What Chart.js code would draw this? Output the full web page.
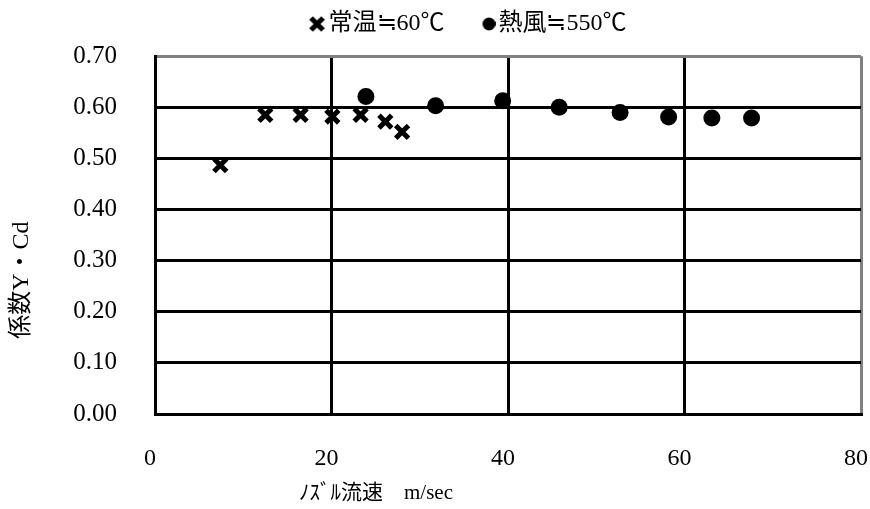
<!DOCTYPE html>
<html><head><meta charset="utf-8">
<script src="https://cdn.jsdelivr.net/npm/chart.js@4.4.0/dist/chart.umd.min.js"></script>
<style>html,body{margin:0;padding:0;background:#fff;}#wrap{width:870px;height:509px;}</style>
</head><body><div id="wrap"><canvas id="c" width="870" height="509"></canvas></div>
<script>
const seriesNames = ['常温≒60℃', '熱風≒550℃'];
const normalSpeed = [7.4, 12.5, 16.5, 20.1, 23.3, 26.1, 28.0];
const normalCoef  = [0.487, 0.585, 0.585, 0.582, 0.585, 0.572, 0.552];
const hotSpeed = [23.9, 31.8, 39.4, 45.8, 52.7, 58.2, 63.1, 67.6];
const hotCoef  = [0.621, 0.603, 0.613, 0.600, 0.590, 0.581, 0.579, 0.579];
const xTicks = [0, 20, 40, 60, 80];
const yTicks = [0, 0.1, 0.2, 0.3, 0.4, 0.5, 0.6, 0.7];
const xTitle = 'ﾉｽﾞﾙ流速　m/sec';
const yTitle = '係数Y・Cd';

const FONT = "'Liberation Serif','Noto Sans CJK JP',serif";
const GRAY = '#808080';
const LEG_FS = 24, LEG_PAD = 7, BW = 35;

function legendMark(kind) {
  const W = BW + 18, H = 24;
  const cv = document.createElement('canvas');
  cv.width = W; cv.height = H;
  const g = cv.getContext('2d');
  g.fillStyle = '#000'; g.strokeStyle = '#000';
  if (kind === 'x') {
    const s = 17, x0 = W - s, y0 = (H - s) / 2, m = 2.5;
    g.lineWidth = 5; g.lineCap = 'butt';
    g.beginPath();
    g.moveTo(x0 + m, y0 + m); g.lineTo(x0 + s - m, y0 + s - m);
    g.moveTo(x0 + s - m, y0 + m); g.lineTo(x0 + m, y0 + s - m);
    g.stroke();
  } else {
    const r = 6.5;
    g.beginPath(); g.arc(W - r, H / 2, r, 0, Math.PI * 2); g.fill();
  }
  return cv;
}
const legendMarks = [legendMark('x'), legendMark('o')];

const axisTitles = {
  id: 'axisTitles',
  afterDraw(chart) {
    const ctx = chart.ctx, a = chart.chartArea;
    ctx.save();
    ctx.fillStyle = '#000';
    ctx.textAlign = 'center';
    ctx.textBaseline = 'middle';
    ctx.font = '21px ' + FONT;
    ctx.fillText(xTitle, a.left + 221, 493);
    ctx.font = '24px ' + FONT;
    ctx.translate(22, a.top + 224);
    ctx.rotate(-Math.PI / 2);
    ctx.fillText(yTitle, 0, 0);
    ctx.restore();
  }
};

new Chart(document.getElementById('c'), {
  type: 'scatter',
  data: {
    datasets: [
      {
        label: seriesNames[0],
        data: normalSpeed.map((x, i) => ({ x: x, y: normalCoef[i] })),
        pointStyle: 'crossRot', pointRadius: 9, pointHoverRadius: 9,
        borderColor: '#000', backgroundColor: '#000', borderWidth: 5, pointBorderWidth: 5
      },
      {
        label: seriesNames[1],
        data: hotSpeed.map((x, i) => ({ x: x, y: hotCoef[i] })),
        pointStyle: 'circle', pointRadius: 8.5, pointHoverRadius: 8.5,
        borderColor: '#000', backgroundColor: '#000', borderWidth: 0, pointBorderWidth: 0
      }
    ]
  },
  options: {
    responsive: false,
    animation: false,
    events: [],
    layout: { autoPadding: false, padding: { left: 47, right: 9, top: 5, bottom: 0 } },
    plugins: {
      tooltip: { enabled: false },
      subtitle: { display: true, text: '', weight: 500, position: 'top', font: { size: 1 }, padding: { top: 9, bottom: 0 } },
      legend: {
        position: 'top',
        labels: {
          usePointStyle: true,
          pointStyleWidth: BW,
          padding: LEG_PAD,
          color: '#000',
          font: { family: FONT, size: LEG_FS },
          generateLabels: chart => chart.data.datasets.map((ds, i) => ({
            text: ds.label, pointStyle: legendMarks[i], fillStyle: '#000',
            strokeStyle: '#000', lineWidth: 0, hidden: false, datasetIndex: i, fontColor: '#000'
          }))
        }
      }
    },
    scales: {
      x: {
        type: 'linear', min: xTicks[0], max: xTicks[xTicks.length - 1],
        afterBuildTicks: s => { s.ticks = xTicks.map(v => ({ value: v })); },
        afterFit: s => { s.height = 95; s.paddingLeft = 0; s.paddingRight = 0; },
        grid: {
          drawTicks: false, lineWidth: 3,
          color: c => (c.tick && c.tick.value >= xTicks[xTicks.length - 1]) ? GRAY : '#000'
        },
        border: { display: true, color: '#000', width: 3 },
        ticks: { padding: 30, labelOffset: -5, color: '#000', font: { family: FONT, size: 24 }, callback: v => String(v) }
      },
      y: {
        type: 'linear', min: yTicks[0], max: yTicks[yTicks.length - 1],
        afterBuildTicks: s => { s.ticks = yTicks.map(v => ({ value: v })); },
        afterFit: s => { s.width = 108; s.paddingTop = 0; s.paddingBottom = 0; },
        grid: {
          drawTicks: false, lineWidth: 3,
          color: c => (c.tick && c.tick.value >= yTicks[yTicks.length - 1] - 1e-9) ? GRAY : '#000'
        },
        border: { display: true, color: '#000', width: 3 },
        ticks: { padding: 38, color: '#000', font: { family: FONT, size: 25 }, callback: v => Number(v).toFixed(2) }
      }
    }
  },
  plugins: [axisTitles]
});
</script>
</body></html>
